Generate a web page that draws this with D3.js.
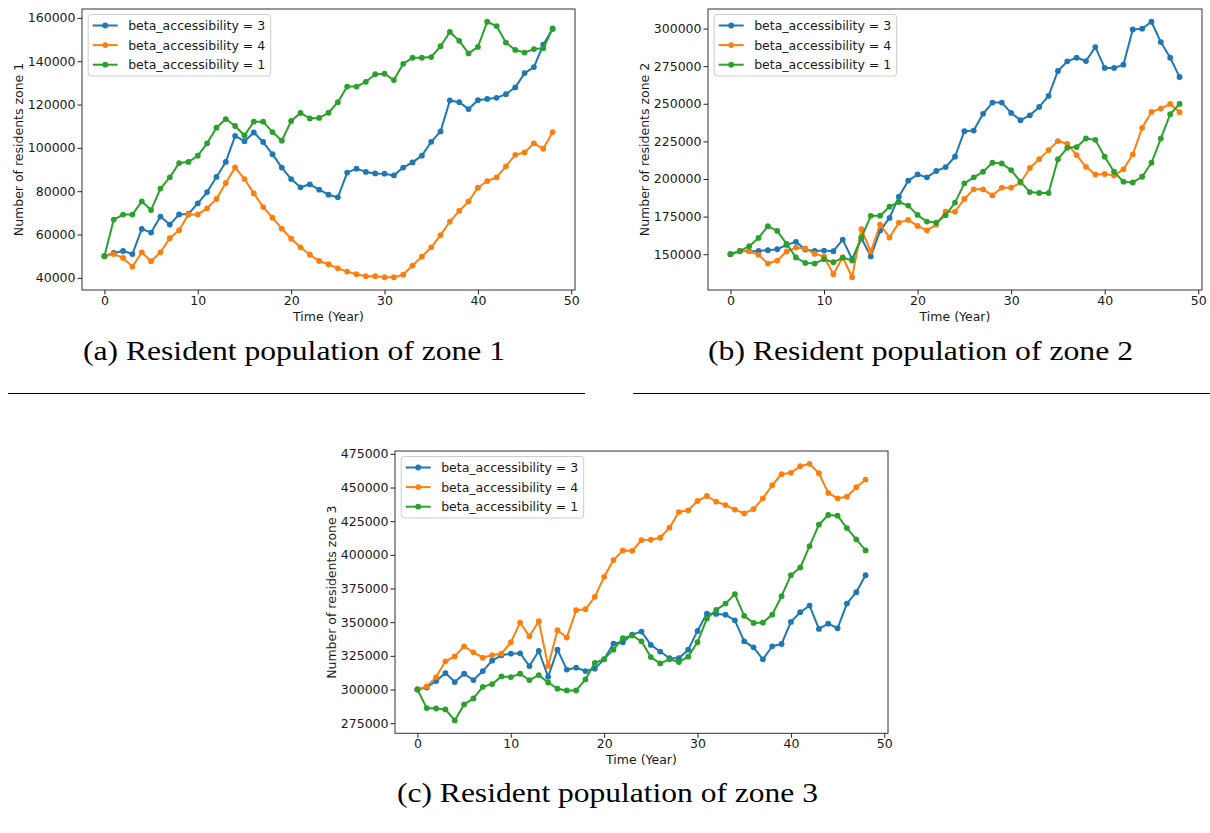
<!DOCTYPE html>
<html><head><meta charset="utf-8">
<script src="https://cdn.jsdelivr.net/npm/d3@7/dist/d3.min.js"></script>
<style>body{margin:0;background:#fff}</style>
</head><body>
<svg id="c" width="1210" height="833" xmlns="http://www.w3.org/2000/svg"></svg>
<script>
const years = [0,1,2,3,4,5,6,7,8,9,10,11,12,13,14,15,16,17,18,19,20,21,22,23,24,25,26,27,28,29,30,31,32,33,34,35,36,37,38,39,40,41,42,43,44,45,46,47,48];
const seriesLabels = ['beta_accessibility = 3','beta_accessibility = 4','beta_accessibility = 1'];
const seriesColors = ['#1f77b4','#ff7f0e','#2ca02c'];
const xTicks = [0,10,20,30,40,50];

const zone1Beta3 = [50000,51500,52400,51000,62600,60900,68300,64600,69300,69500,74400,79600,86600,93500,105500,103100,107100,102700,97100,90900,85600,81800,83200,80700,78400,77200,88600,90400,88900,88200,88100,87300,90900,93300,96400,102800,107600,121900,121100,117900,122000,122600,123100,124800,127900,134500,137300,147600,154900];
const zone1Beta4 = [50000,51000,49200,45200,51800,47700,51800,58300,62000,69300,69300,72100,76400,83800,91000,85600,79000,72700,67800,62700,58100,54100,50700,47800,46300,44400,42900,41700,40800,40800,40300,40300,41500,45700,49800,54100,59700,66000,70900,75300,81600,84700,86400,91500,96800,97900,102100,99600,107300];
const zone1Beta1 = [50000,66900,69200,69200,75300,71300,81200,86400,93000,93500,96400,102100,109300,113300,110100,105700,112100,112100,107300,103300,112400,116100,113600,113800,116200,121100,128300,128300,130500,134000,134200,131300,138800,141600,141600,141900,146900,153500,149400,143600,146600,158200,156200,148600,145200,144000,145600,146000,155100];

const zone2Beta3 = [150000,152200,152000,152200,152700,153300,156200,158200,153100,152200,152400,152000,159700,146700,160600,148500,165700,174100,188200,198900,203000,201100,205300,207900,214800,231800,232200,243300,250800,250800,243900,239100,242300,247900,255200,271800,278200,280600,278400,287700,273800,273800,276000,299400,299900,304500,291000,280600,267800];
const zone2Beta4 = [150000,152200,152000,149600,143800,145800,151800,154400,153800,150200,148500,136700,148000,134700,166600,151800,169700,161100,171000,172800,168800,165900,169700,178300,178300,186700,193100,193100,189100,194200,194200,197500,207300,213200,219200,225200,223400,215900,208100,203000,203300,202400,206400,216300,234000,244600,246800,249900,244400];
const zone2Beta1 = [150000,152000,155300,160800,168600,165500,156900,147800,144200,143800,146700,144700,147600,145800,161100,175500,175600,181600,184700,182300,176100,171700,171000,175900,184300,197100,201100,204800,210800,210300,205900,198200,191300,190700,190700,213200,220700,221200,226900,226000,214800,204800,198200,197700,201500,210800,226900,243100,249900];

const zone3Beta3 = [300000,301500,306300,312200,305500,311700,307000,313700,321400,325400,326600,326900,317400,328600,309400,329600,314800,316200,313700,315500,322400,334100,335100,340800,343000,333100,328200,323200,323200,329600,343500,356400,356100,355600,351400,335800,331300,322400,332100,333800,350200,357400,362300,345000,348900,345500,363800,372300,384900];
const zone3Beta4 = [300000,302300,309200,320900,324600,332100,327600,323600,325600,326600,335000,349700,339500,350700,317500,344000,338600,358900,359600,368800,383700,396100,403300,403000,411000,411200,412700,420200,431800,433100,440000,443700,439500,437000,433600,430800,434000,442000,451700,459900,460900,465800,467600,460600,446000,442000,443200,450200,455900];
const zone3Beta1 = [300000,286200,285900,285200,277000,288900,293400,302000,304000,309700,309200,311700,307000,310700,305200,300600,299300,299300,307500,319700,322600,329600,338100,340100,335800,324100,319400,322400,320400,324400,335100,352700,359100,363800,370800,354700,349400,349700,355600,369300,384900,390600,406500,422400,429600,429100,419900,411500,403300];

const zone1Ticks = [40000,60000,80000,100000,120000,140000,160000];
const zone2Ticks = [150000,175000,200000,225000,250000,275000,300000];
const zone3Ticks = [275000,300000,325000,350000,375000,400000,425000,450000,475000];

const yLabels = ['Number of residents zone 1','Number of residents zone 2','Number of residents zone 3'];
const captions = ['(a) Resident population of zone 1','(b) Resident population of zone 2','(c) Resident population of zone 3'];

const panels = [
  {series:[zone1Beta3,zone1Beta4,zone1Beta1], ticks:zone1Ticks, ylabel:yLabels[0], caption:captions[0],
   l:82, r:575, t:9, b:290, ylabX:18, capX:294, capY:360, capW:422},
  {series:[zone2Beta3,zone2Beta4,zone2Beta1], ticks:zone2Ticks, ylabel:yLabels[1], caption:captions[1],
   l:708, r:1202, t:9, b:290, ylabX:644, capX:920.5, capY:360, capW:425},
  {series:[zone3Beta3,zone3Beta4,zone3Beta1], ticks:zone3Ticks, ylabel:yLabels[2], caption:captions[2],
   l:395, r:888, t:451, b:733.3, ylabX:331, capX:607.5, capY:802, capW:421}
];

const svg = d3.select('#c');
svg.append('rect').attr('width',1210).attr('height',833).attr('fill','#fff');
const FONT = 'DejaVu Sans';
const FS = 12.5;

function padded(ext){ const d = ext[1]-ext[0]; return [ext[0]-0.05*d, ext[1]+0.05*d]; }

panels.forEach(p => {
  const g = svg.append('g');
  const x = d3.scaleLinear().domain(padded(d3.extent(years))).range([p.l, p.r]);
  const y = d3.scaleLinear().domain(padded(d3.extent(p.series.flat()))).range([p.b, p.t]);

  // lines and markers
  p.series.forEach((s, si) => {
    const line = d3.line().x((d,i)=>x(years[i])).y(d=>y(d));
    g.append('path').datum(s).attr('d', line).attr('fill','none')
      .attr('stroke', seriesColors[si]).attr('stroke-width',2).attr('stroke-linejoin','round').attr('stroke-linecap','square');
    g.append('g').selectAll('circle').data(s).join('circle')
      .attr('cx',(d,i)=>x(years[i])).attr('cy',d=>y(d)).attr('r',2.9).attr('fill',seriesColors[si]);
  });

  // axes
  const xa = g.append('g').attr('transform',`translate(0,${p.b})`)
    .call(d3.axisBottom(x).tickValues(xTicks).tickSize(4.5).tickPadding(1.5).tickFormat(d3.format('d')));
  const ya = g.append('g').attr('transform',`translate(${p.l},0)`)
    .call(d3.axisLeft(y).tickValues(p.ticks).tickSize(4.5).tickPadding(2).tickFormat(d3.format('d')));
  [xa, ya].forEach(a => {
    a.attr('font-family', FONT).attr('font-size', FS);
    a.select('.domain').remove();
    a.selectAll('line').attr('stroke','#222').attr('stroke-width',1);
    a.selectAll('text').attr('fill','#1a1a1a');
  });

  // frame
  g.append('rect').attr('x',p.l).attr('y',p.t).attr('width',p.r-p.l).attr('height',p.b-p.t)
    .attr('fill','none').attr('stroke','#333').attr('stroke-width',1);

  // axis labels
  g.append('text').attr('x',(p.l+p.r)/2).attr('y',p.b+31).attr('text-anchor','middle')
    .attr('font-family',FONT).attr('font-size',FS).attr('fill','#1a1a1a').text('Time (Year)');
  g.append('text').attr('transform',`translate(${p.ylabX+4.5},${(p.t+p.b)/2}) rotate(-90)`)
    .attr('text-anchor','middle').attr('font-family',FONT).attr('font-size',FS).attr('fill','#1a1a1a').text(p.ylabel);

  // legend
  const lx = p.l + 6.2, ly = p.t + 5.5;
  const lg = g.append('g');
  lg.append('rect').attr('x',lx).attr('y',ly).attr('width',182.5).attr('height',61.5).attr('rx',3)
    .attr('fill','#fff').attr('fill-opacity',0.8).attr('stroke','#cccccc').attr('stroke-width',1);
  seriesLabels.forEach((lab, si) => {
    const yy = ly + 11 + si*19.6;
    lg.append('line').attr('x1',lx+4.5).attr('x2',lx+29.5).attr('y1',yy).attr('y2',yy)
      .attr('stroke',seriesColors[si]).attr('stroke-width',2);
    lg.append('circle').attr('cx',lx+17).attr('cy',yy).attr('r',2.9).attr('fill',seriesColors[si]);
    lg.append('text').attr('x',lx+40).attr('y',yy+4.5).attr('font-family',FONT).attr('font-size',FS)
      .attr('fill','#1a1a1a').text(lab);
  });

  // caption
  svg.append('text').attr('x',p.capX).attr('y',p.capY).attr('text-anchor','middle')
    .attr('font-family','Liberation Serif').attr('font-size',28).attr('fill','#000')
    .attr('textLength',p.capW).attr('lengthAdjust','spacingAndGlyphs').text(p.caption);
});

// separating rules under the top subfigures
svg.append('line').attr('x1',8).attr('x2',585).attr('y1',393.5).attr('y2',393.5).attr('stroke','#000').attr('stroke-width',1);
svg.append('line').attr('x1',633).attr('x2',1210).attr('y1',393.5).attr('y2',393.5).attr('stroke','#000').attr('stroke-width',1);
</script>
</body></html>
